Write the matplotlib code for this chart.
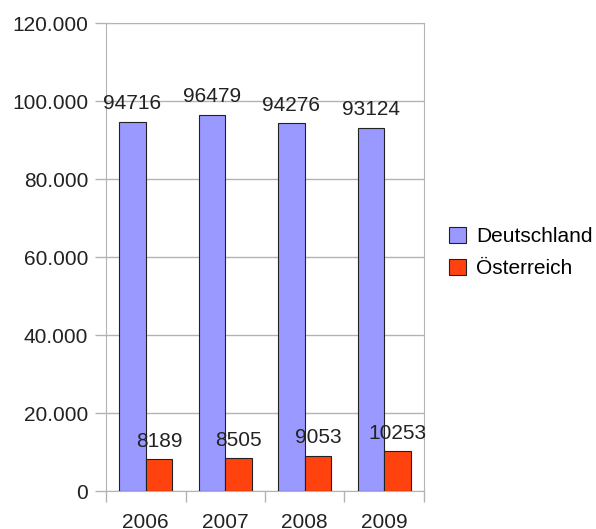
import matplotlib
matplotlib.use("Agg")
import matplotlib.pyplot as plt
from matplotlib.ticker import FuncFormatter
import numpy as np

plt.rcParams["font.family"] = ["Liberation Sans", "DejaVu Sans"]

years = ["2006", "2007", "2008", "2009"]
deutschland = [94716, 96479, 94276, 93124]
oesterreich = [8189, 8505, 9053, 10253]

BLUE = "#9999ff"; RED = "#ff420e"; GRID = "#b3b3b3"; TXT = "#222222"
FS = 15

fig = plt.figure(figsize=(5.96, 5.29), dpi=100)
ax = fig.add_axes([0.178, 0.0718, 0.533, 0.8847])

x = np.arange(len(years))
w = 1/3
b1 = ax.bar(x - w/2, deutschland, w, color=BLUE, edgecolor="#222222", lw=0.8, label="Deutschland", zorder=3)
b2 = ax.bar(x + w/2, oesterreich, w, color=RED, edgecolor="#222222", lw=0.8, label="Österreich", zorder=3)
for bars in (b1, b2):
    ax.bar_label(bars, labels=[str(int(v)) for v in bars.datavalues], padding=6, fontsize=FS, color=TXT)

ax.set_xlim(-0.5, len(years) - 0.5)
ax.set_ylim(0, 120000)
ax.set_yticks(np.arange(0, 120001, 20000))
ax.yaxis.set_major_formatter(FuncFormatter(lambda v, p: f"{int(v):,}".replace(",", ".")))
ax.grid(axis="y", color=GRID, lw=1, zorder=0)
ax.set_xticks(np.arange(-0.5, len(years)), labels=[""] * (len(years) + 1))
ax.set_xticks(x, labels=years, minor=True)
ax.tick_params(axis="x", which="major", length=8, color=GRID, width=1)
ax.tick_params(axis="x", which="minor", length=0, pad=16, labelsize=FS, labelcolor=TXT)
ax.tick_params(axis="y", length=8, color=GRID, width=1, pad=5, labelsize=FS, labelcolor=TXT)
for s in ax.spines.values():
    s.set_color(GRID)

ax.legend(loc="center left", bbox_to_anchor=(1.02, 0.51), frameon=False, fontsize=FS,
          handlelength=0.8, handleheight=0.8, handletextpad=0.5, labelspacing=0.6)

fig.savefig("out.png", dpi=100)
